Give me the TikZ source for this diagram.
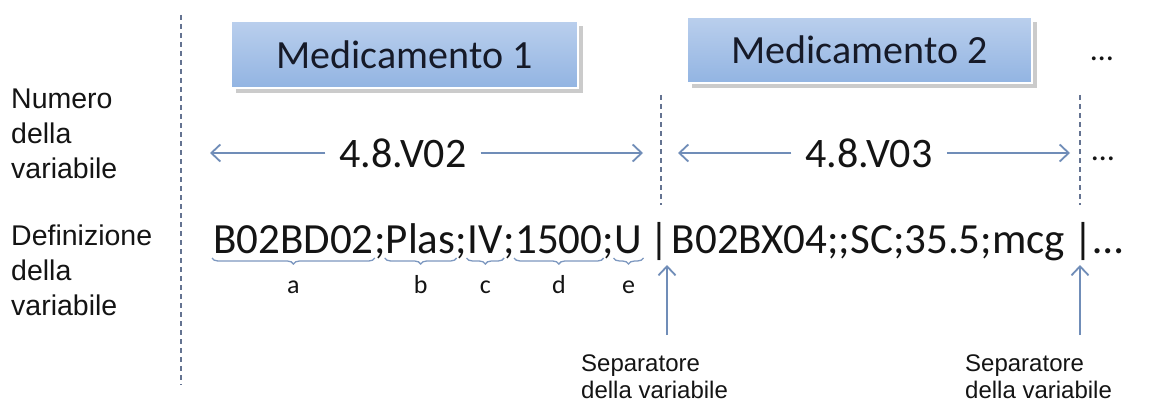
\documentclass[tikz,border=0pt]{standalone}
\usepackage{fontspec}
\setmainfont{Carlito}
\newfontfamily\arialf{Liberation Sans}
\usetikzlibrary{arrows.meta,decorations.pathreplacing,shadows}
\definecolor{arrc}{RGB}{112,141,184}
\definecolor{brcc}{RGB}{125,152,192}
\definecolor{dashc}{RGB}{100,115,145}
\definecolor{boxtop}{RGB}{186,207,237}
\definecolor{boxbot}{RGB}{146,180,226}
\definecolor{textdark}{RGB}{22,26,40}
\definecolor{txt}{RGB}{20,20,20}
\begin{document}
\begin{tikzpicture}[x=1pt,y=-1pt,
  medbox/.style={rectangle, draw=white, line width=2.5pt, top color=boxtop, bottom color=boxbot,
    minimum width=347pt, minimum height=67pt, inner sep=0pt, text=textdark,
    font=\fontsize{40}{48}\selectfont,
    drop shadow={shadow xshift=5pt, shadow yshift=-5pt, fill=black!40, opacity=0.5}},
  varlbl/.style={fill=white, inner xsep=14pt, inner ysep=0pt, text=txt, font=\fontsize{42}{50}\selectfont},
  strp/.style={anchor=base west, inner sep=0pt, text=txt, font=\fontsize{43}{52}\selectfont},
  brc/.style={decorate, decoration={brace, mirror, amplitude=6pt}, draw=brcc, line width=1.3pt},
  lbl/.style={anchor=base, inner sep=0pt, text=txt, font=\fontsize{26}{30}\selectfont},
  arr/.style={draw=arrc, line width=1.8pt, -{Straight Barb[length=9pt,width=17pt]}},
  dsh/.style={draw=dashc, line width=1.6pt, dash pattern=on 5pt off 4pt},
  side/.style={anchor=west, inner sep=0pt, align=left, text=txt, font=\arialf\fontsize{28.5}{35}\selectfont},
  seplbl/.style={anchor=west, inner sep=0pt, align=left, text=txt, font=\arialf\fontsize{24}{27}\selectfont},
  dots/.style={anchor=base, inner sep=0pt, text=txt, font=\fontsize{32}{38}\selectfont}
]
\useasboundingbox[fill=white] (0,0) rectangle (1152,412);

% dashed guide lines
\coordinate (d0t) at (181,15);  \coordinate (d0b) at (181,385);
\coordinate (d1t) at (661,95);  \coordinate (d1b) at (661,205);
\coordinate (d2t) at (1080,95); \coordinate (d2b) at (1080,205);
\draw[dsh] (d0t) -- (d0b);
\draw[dsh] (d1t) -- (d1b);
\draw[dsh] (d2t) -- (d2b);

% boxes
\node[medbox] (m1) at (404.5,54.5) {Medicamento 1};
\node[medbox, minimum width=345pt, minimum height=66pt] (m2) at (859.5,50) {Medicamento 2};
\node[dots] (topdots) at (1102,61) {…};

% side labels
\node[side] (numlbl) at (11,134) {Numero\\della\\variabile};
\node[side] (deflbl) at (11,270) {Definizione\\della\\variabile};

% variable number arrows
\coordinate (a1l) at (210,153); \coordinate (a1r) at (643,153);
\coordinate (a2l) at (678,153); \coordinate (a2r) at (1070,153);
\node[varlbl] (v02) at (403,153) {4.8.V02};
\node[varlbl] (v03) at (869,153) {4.8.V03};
\draw[arr] (v02) -- (a1l);
\draw[arr] (v02) -- (a1r);
\draw[arr] (v03) -- (a2l);
\draw[arr] (v03) -- (a2r);
\node[dots] (middots) at (1103,160) {…};

% definition string
\node[strp] (fa) at (213,253) {B02BD02};
\node[strp] (s1) at (fa.base east) {;};
\node[strp] (fb) at (s1.base east) {Plas};
\node[strp] (s2) at (fb.base east) {;};
\node[strp] (fc) at (s2.base east) {IV};
\node[strp] (s3) at (fc.base east) {;};
\node[strp] (fd) at (s3.base east) {1500};
\node[strp] (s4) at (fd.base east) {;};
\node[strp] (fe) at (s4.base east) {U};
\node[strp] (bar1) at ([xshift=7pt]fe.base east) {|};
\node[strp] (rest) at ([xshift=2pt]bar1.base east) {B02BX04;;SC;35.5;mcg};
\node[strp] (bar2) at ([xshift=8pt]rest.base east) {|};
\node[strp] (enddots) at (bar2.base east) {…};

% braces and letters
\foreach \f/\l in {fa/a,fb/b,fc/c,fd/d,fe/e}{
  \draw[brc] ([xshift=-1pt,yshift=-5pt]\f.base west) -- ([xshift=1pt,yshift=-5pt]\f.base east);
  \node[lbl] (l\l) at ([yshift=-40pt]\f.base) {\l};
}

% separator arrows and labels
\coordinate (sa1t) at (667,265); \coordinate (sa1b) at (667,335);
\coordinate (sa2t) at (1080,265); \coordinate (sa2b) at (1080,335);
\draw[arr] (sa1b) -- (sa1t);
\draw[arr] (sa2b) -- (sa2t);
\node[seplbl] (sep1) at (581,377) {Separatore\\della variabile};
\node[seplbl] (sep2) at (965,377) {Separatore\\della variabile};
\end{tikzpicture}
\end{document}
